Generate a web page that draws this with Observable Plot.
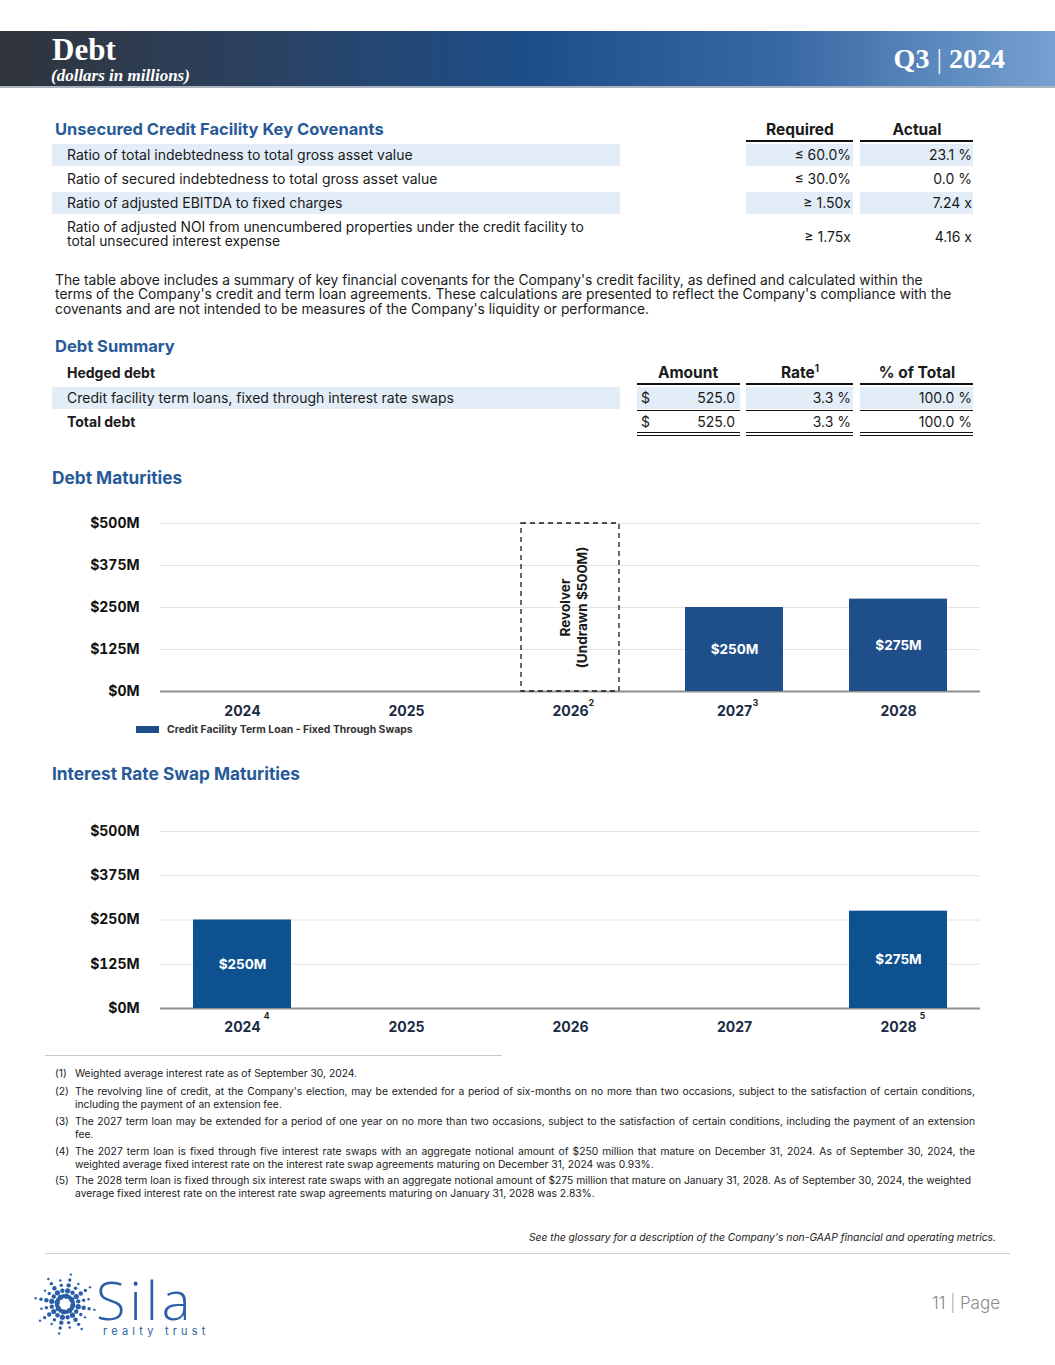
<!DOCTYPE html>
<html><head><meta charset="utf-8">
<script src="https://cdn.jsdelivr.net/npm/d3@7"></script>
<script src="https://cdn.jsdelivr.net/npm/@observablehq/plot@0.6"></script>
<style>
body{margin:0;background:#fff;}
#page{position:relative;width:1055px;height:1365px;overflow:hidden;font-family:Inter,"Noto Sans",sans-serif;color:#1a1a1a;background:#fff;}
.t{position:absolute;white-space:nowrap;}
.box{position:absolute;}
</style></head><body><div id="page"></div>
<script>
// ---------- data ----------
const years = ["2024","2025","2026","2027","2028"];
const debtMaturities = [0,0,0,250,275];
const debtSup = ["","","2","3",""];
const revolverYear = "2026";
const revolverAmount = 500;
const swapMaturities = [250,0,0,0,275];
const swapSup = ["4","","","","5"];
const yTicks = [0,125,250,375,500];

const covenantLabels = ["Ratio of total indebtedness to total gross asset value","Ratio of secured indebtedness to total gross asset value","Ratio of adjusted EBITDA to fixed charges","Ratio of adjusted NOI from unencumbered properties under the credit facility to<br>total unsecured interest expense"];
const covenantRequired = ["≤ 60.0%","≤ 30.0%","≥ 1.50x","≥ 1.75x"];
const covenantActual = ["23.1 %","0.0 %","7.24 x","4.16 x"];

const summaryLabels = ["Credit facility term loans, fixed through interest rate swaps","Total debt"];
const summaryAmount = ["525.0","525.0"];
const summaryRate = ["3.3 %","3.3 %"];
const summaryPct = ["100.0 %","100.0 %"];

const footnotes = [
 "Weighted average interest rate as of September 30, 2024.",
 "The revolving line of credit, at the Company's election, may be extended for a period of six-months on no more than two occasions, subject to the satisfaction of certain conditions, including the payment of an extension fee.",
 "The 2027 term loan may be extended for a period of one year on no more than two occasions, subject to the satisfaction of certain conditions, including the payment of an extension fee.",
 "The 2027 term loan is fixed through five interest rate swaps with an aggregate notional amount of $250 million that mature on December 31, 2024. As of September 30, 2024, the weighted average fixed interest rate on the interest rate swap agreements maturing on December 31, 2024 was 0.93%.",
 "The 2028 term loan is fixed through six interest rate swaps with an aggregate notional amount of $275 million that mature on January 31, 2028. As of September 30, 2024, the weighted average fixed interest rate on the interest rate swap agreements maturing on January 31, 2028 was 2.83%."
];

// ---------- helpers ----------
const page = document.getElementById("page");
function T(html, o){
  const d = document.createElement("div");
  d.className = "t";
  const size = o.size||13, lh = o.lh||Math.round(size*1.25);
  d.style.fontSize = size+"px";
  d.style.lineHeight = lh+"px";
  d.style.fontWeight = o.weight||400;
  d.style.color = o.color||"#1a1a1a";
  if(o.italic) d.style.fontStyle="italic";
  if(o.family) d.style.fontFamily=o.family;
  if(o.ls) d.style.letterSpacing=o.ls;
  d.style.top = (o.top!=null? o.top : (o.y - lh/2))+"px";
  if(o.align==="right"){ d.style.left=(o.x-700)+"px"; d.style.width="700px"; d.style.textAlign="right"; }
  else if(o.align==="center"){ d.style.left=(o.x-200)+"px"; d.style.width="400px"; d.style.textAlign="center"; }
  else d.style.left=o.x+"px";
  if(o.width){ d.style.width=o.width+"px"; d.style.whiteSpace="normal"; if(o.justify) d.style.textAlign="justify"; }
  d.innerHTML = html;
  page.appendChild(d);
  return d;
}
function B(x,y,w,h,bg){
  const d=document.createElement("div"); d.className="box";
  Object.assign(d.style,{left:x+"px",top:y+"px",width:w+"px",height:h+"px",background:bg});
  page.appendChild(d); return d;
}

// ---------- header ----------
B(0,31,1055,55,"linear-gradient(90deg,#30343b 0%,#2c405c 22%,#1d4e89 50%,#3a6aa5 75%,#76a1d1 100%)");
B(0,86,1055,2,"#aab4bf");
T("Debt",{x:52,top:36,size:31,lh:28,weight:700,color:"#fff",family:"'Liberation Serif',serif"});
T("(dollars in millions)",{x:51,top:68,size:17,lh:16,weight:700,italic:true,color:"#fff",family:"'Liberation Serif',serif"});
T("Q3 <span style='font-weight:400;opacity:.9'>|</span> 2024",{x:1005,top:45,size:28,lh:28,weight:700,color:"#fff",family:"'Liberation Serif',serif",align:"right"});

// ---------- covenants table ----------
const blue = "#285a98", shade = "#e2edf8";
T("Unsecured Credit Facility Key Covenants",{x:55,y:129,size:16.5,weight:700,color:blue});
T("Required",{x:800,y:129,size:15.5,weight:700,align:"center"});
T("Actual",{x:917,y:129,size:15.5,weight:700,align:"center"});
B(746,140,107,2,"#111"); B(860,140,113,2,"#111");
const covY = [155,179,203,235];
covenantLabels.forEach((lab,i)=>{
  if(i%2===0){ B(52,covY[i]-11,568,22,shade); B(746,covY[i]-11,107,22,shade); B(860,covY[i]-11,113,22,shade); }
  if(i===3) T(lab,{x:67,top:221,size:13.8,lh:13.5});
  else T(lab,{x:67,y:covY[i],size:14,lh:16});
  T(covenantRequired[i],{x:851,y:covY[i]+(i===3?2:0),size:14,align:"right"});
  T(covenantActual[i],{x:972,y:covY[i]+(i===3?2:0),size:14,align:"right"});
});
T("The table above includes a summary of key financial covenants for the Company's credit facility, as defined and calculated within the<br>terms of the Company's credit and term loan agreements. These calculations are presented to reflect the Company's compliance with the<br>covenants and are not intended to be measures of the Company's liquidity or performance.",{x:55,top:272.5,size:13.8,lh:14.5});

// ---------- debt summary ----------
T("Debt Summary",{x:55,y:346,size:16.5,weight:700,color:blue});
T("Hedged debt",{x:67,y:373,size:14,weight:700});
T("Amount",{x:688,y:372,size:15.5,weight:700,align:"center"});
T("Rate<sup style='font-size:10px;line-height:0'>1</sup>",{x:800,y:372,size:15.5,weight:700,align:"center"});
T("% of Total",{x:917,y:372,size:15.5,weight:700,align:"center"});
const cols = [[637,103],[746,107],[860,113]];
cols.forEach(([x,w])=>B(x,383,w,2,"#111"));
const sumY=[398,422];
summaryLabels.forEach((lab,i)=>{
  if(i===0){ B(52,sumY[i]-11,568,22,shade); cols.forEach(([x,w])=>B(x,sumY[i]-11,w,22,shade)); }
  T(lab,{x:67,y:sumY[i],size:14,weight:i===1?700:400});
  T("$",{x:641,y:sumY[i],size:14});
  T(summaryAmount[i],{x:735,y:sumY[i],size:14,align:"right"});
  T(summaryRate[i],{x:851,y:sumY[i],size:14,align:"right"});
  T(summaryPct[i],{x:972,y:sumY[i],size:14,align:"right"});
});
cols.forEach(([x,w])=>{B(x,410,w,1,"#111"); B(x,432,w,1,"#111"); B(x,435,w,1,"#111");});

// ---------- charts ----------
const barBlue = "#1f4f8b", swapBlue = "#0d5190";
function makeChart(values, sups, color, opts){
  const data = years.map((y,i)=>({year:y, value:values[i], sup:sups[i]}));
  const marks = [
    Plot.gridY(yTicks.filter(d=>d>0),{stroke:"#e2e2e2",strokeOpacity:1}),
    Plot.axisY(yTicks,{tickSize:0,tickPadding:21,tickFormat:d=>`$${d}M`,fontWeight:700,fontSize:14,fill:"#111",label:null}),
    Plot.axisX({tickSize:0,tickPadding:opts.tickPad,fontWeight:700,fontSize:14,fill:"#1c2b45",label:null}),
    Plot.ruleY([0],{stroke:"#8f8f8f",strokeWidth:2}),
    Plot.barY(data.filter(d=>d.value>0),{x:"year",y:"value",fill:color}),
    Plot.text(data.filter(d=>d.value>0),{x:"year",y:d=>d.value/2,text:d=>`$${d.value}M`,fill:"#fff",fontWeight:700,fontSize:13.5}),
    Plot.text(data.filter(d=>d.sup),{x:"year",y:0,text:"sup",dx:opts.supDx,dy:opts.supDy,fontSize:8.5,fontWeight:700,fill:"#1a1a1a"})
  ];
  if(opts.revolver){
    const rev=[{year:revolverYear,value:revolverAmount}];
    marks.push(Plot.barY(rev,{x:"year",y:"value",fill:"none",stroke:"#1a1a1a",strokeWidth:1.3,strokeDasharray:"5,4"}));
    marks.push(Plot.text(rev,{x:"year",y:d=>d.value/2,text:()=>"Revolver\n(Undrawn $500M)",rotate:-90,fontSize:13.5,fontWeight:700,lineHeight:1.25,fill:"#1a1a1a",dx:3}));
  }
  return Plot.plot({
    width:950,height:240,marginLeft:120,marginRight:10,marginTop:opts.mt,marginBottom:240-opts.mt-opts.ph,
    style:{fontFamily:"Inter,'Noto Sans',sans-serif",background:"transparent",overflow:"visible"},
    x:{domain:years,paddingInner:0.4,paddingOuter:0.2},
    y:{domain:[0,500]},
    marks
  });
}
T("Debt Maturities",{x:52,y:478,size:17.3,weight:700,color:blue});
const c1 = makeChart(debtMaturities,debtSup,barBlue,{mt:23,ph:168,tickPad:15,supDx:21,supDy:12,revolver:true});
c1.style.position="absolute"; c1.style.left="40px"; c1.style.top="500px"; page.appendChild(c1);
B(136,726,23,7,barBlue);
T("Credit Facility Term Loan - Fixed Through Swaps",{x:167,y:729,size:10.4,weight:700,color:"#333"});

T("Interest Rate Swap Maturities",{x:52,y:774,size:17.3,weight:700,color:blue});
const c2 = makeChart(swapMaturities,swapSup,swapBlue,{mt:31,ph:177,tickPad:14,supDx:24,supDy:8});
c2.style.position="absolute"; c2.style.left="40px"; c2.style.top="800px"; page.appendChild(c2);

// ---------- footnotes ----------
B(45,1055,457,1,"#c8c8c8");
const fnTop=[1066.5,1084.5,1114.5,1144.5,1173.5];
footnotes.forEach((f,i)=>{
  T(`(${i+1})`,{x:55,top:fnTop[i],size:10.3,lh:13});
  T(f,{x:75,top:fnTop[i],size:10.3,lh:13,width:i===4?896:900,justify:true});
});
T("See the glossary for a description of the Company's non-GAAP financial and operating metrics.",{x:996,y:1237,size:10.3,italic:true,align:"right"});
B(45,1253,965,1,"#cfcfcf");

// ---------- footer ----------
const ns="http://www.w3.org/2000/svg";
const logo=document.createElementNS(ns,"svg");
logo.setAttribute("width","80"); logo.setAttribute("height","76");
Object.assign(logo.style,{position:"absolute",left:"25px",top:"1266px"});
for(let i=0;i<16;i++){
  const a=i*Math.PI/8+Math.PI/16, long=i%2===0;
  const rs = long?[8,13.5,19,24.5,30]:[8,13.5,19,24];
  const sz = long?[2.6,2.6,2.2,1.7,1.2]:[2.2,2.2,1.7,1.2];
  rs.forEach((r,j)=>{
    const c=document.createElementNS(ns,"circle");
    c.setAttribute("cx",40+r*Math.cos(a)); c.setAttribute("cy",38+r*Math.sin(a));
    c.setAttribute("r",sz[j]); c.setAttribute("fill","#2b5ea8");
    logo.appendChild(c);
  });
}
page.appendChild(logo);
T("Sila",{x:96,top:1277,size:54,lh:44,weight:300,color:"#2b5ea8",family:"'Open Sans',sans-serif",ls:"4px"});
T("realty trust",{x:103,y:1331,size:11,lh:12,color:"#2b5ea8",ls:"4.2px",weight:400});
T("11 <span style='font-weight:200'>|</span> Page",{x:1000,y:1303,size:17,color:"#8a8a8a",align:"right",weight:300});
</script></body></html>
